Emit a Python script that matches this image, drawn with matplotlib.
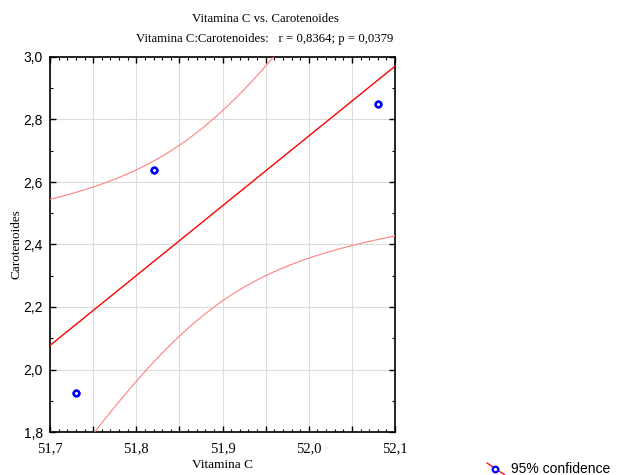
import numpy as np
import matplotlib.pyplot as plt
from matplotlib.lines import Line2D
from matplotlib.ticker import MultipleLocator, FuncFormatter

# data (each visible point is a pair of overlapping observations, n = 6)
vitamina_c = [51.73, 51.73, 51.82, 51.82, 52.08, 52.08]
carotenoides = [1.925, 1.925, 2.64, 2.64, 2.85, 2.85]
t_crit = 2.776  # t(0.975, df=4)

x = np.array(vitamina_c)
y = np.array(carotenoides)
n = len(x)
slope, intercept = np.polyfit(x, y, 1)
resid = y - (slope * x + intercept)
s = np.sqrt(np.sum(resid ** 2) / (n - 2))
sxx = np.sum((x - x.mean()) ** 2)

xs = np.linspace(51.7, 52.1, 300)
fit = slope * xs + intercept
half = t_crit * s * np.sqrt(1 / n + (xs - x.mean()) ** 2 / sxx)

fig = plt.figure(figsize=(6.17, 4.75), dpi=100)
ax = fig.add_axes([50 / 617, 1 - 432 / 475, 345 / 617, 375 / 475])

ax.plot(xs, fit, color='#ff0000', lw=1.0, zorder=3)
ax.plot(xs, fit + half, color='#ff8080', lw=0.8, zorder=3)
ax.plot(xs, fit - half, color='#ff8080', lw=0.8, zorder=3)
ax.scatter(x, y, s=16, facecolor='white', edgecolor='#0000ff', linewidth=1.8, zorder=4)

ax.set_xlim(51.7, 52.1)
ax.set_ylim(1.8, 3.0)
ax.xaxis.set_major_locator(MultipleLocator(0.05))
ax.xaxis.set_minor_locator(MultipleLocator(0.01))
ax.yaxis.set_major_locator(MultipleLocator(0.2))
ax.yaxis.set_minor_locator(MultipleLocator(0.1))


def xfmt(v, p):
    if abs(v * 10 - round(v * 10)) > 1e-6:
        return ''
    return f'{v:.1f}'.replace('.', ',')


ax.xaxis.set_major_formatter(FuncFormatter(xfmt))
ax.yaxis.set_major_formatter(FuncFormatter(lambda v, p: f'{v:.1f}'.replace('.', ',')))
ax.tick_params(which='both', direction='in', top=True, right=True, color='black')
ax.tick_params(which='major', length=4, width=1, labelsize=10)
ax.tick_params(which='minor', length=2.5, width=0.8)
ax.tick_params(axis='x', which='major', pad=7)
ax.tick_params(axis='y', which='major', pad=5)
for lab in ax.get_xticklabels():
    lab.set_fontfamily('Liberation Serif')
    lab.set_fontsize(10.5)
for lab in ax.get_yticklabels():
    lab.set_fontfamily('Liberation Sans')
ax.grid(which='major', color='#dcdcdc', lw=0.8)
ax.set_axisbelow(True)
for sp in ax.spines.values():
    sp.set_linewidth(1.2)

ax.set_xlabel('Vitamina C', family='Liberation Serif', fontsize=9.5, labelpad=3)
ax.set_ylabel('Carotenoides', family='Liberation Serif', fontsize=9.5, labelpad=1)

fig.text(265 / 617, 1 - 18.5 / 475, 'Vitamina C vs. Carotenoides', ha='center', va='center',
         family='Liberation Serif', fontsize=9.2)
fig.text(265 / 617, 1 - 39 / 475, 'Vitamina C:Carotenoides:   r = 0,8364; p = 0,0379', ha='center',
         va='center', family='Liberation Serif', fontsize=9.2)

# legend
fig.add_artist(Line2D([487 / 617, 505 / 617], [1 - 463 / 475, 1 - 475 / 475], color='#ff0000', lw=0.9,
                      transform=fig.transFigure))
fig.add_artist(Line2D([495 / 617], [1 - 469 / 475], marker='o', markersize=4, markerfacecolor='white',
                      markeredgecolor='#0000ff', markeredgewidth=1.6, transform=fig.transFigure))
fig.text(511 / 617, 1 - 469 / 475, '95% confidence', ha='left', va='center', family='Liberation Sans',
         fontsize=10)

fig.savefig('out.png', dpi=100)
